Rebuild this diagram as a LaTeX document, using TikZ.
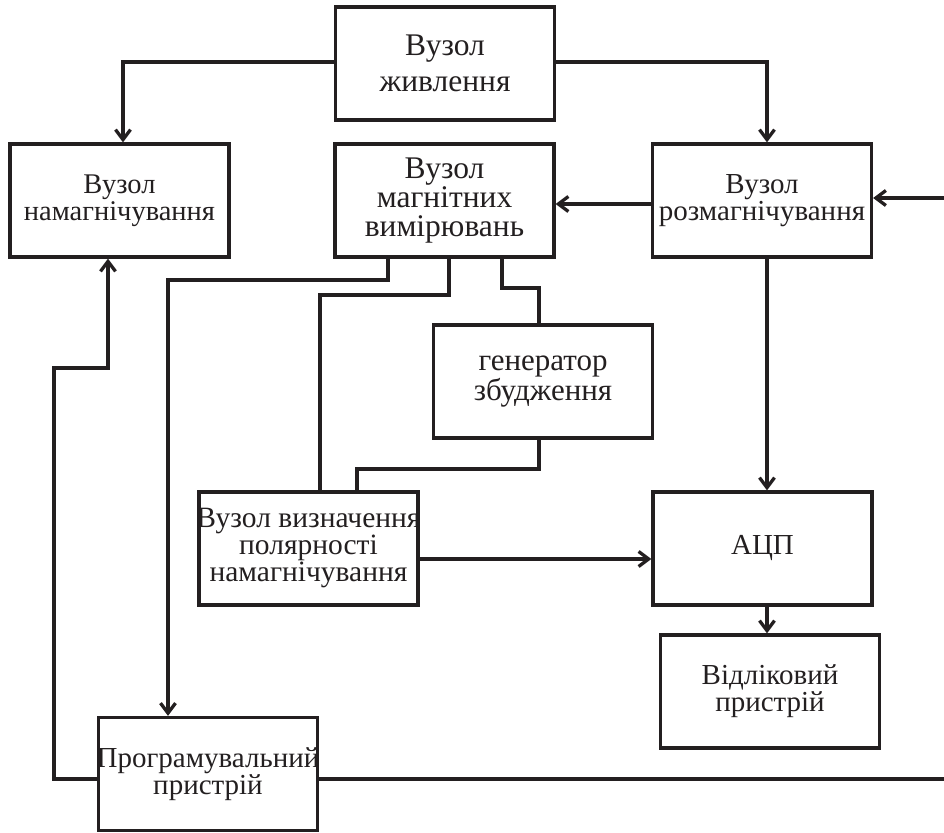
\documentclass[tikz,border=0pt]{standalone}
\usepackage{fontspec}
\setmainfont{Liberation Serif}
\usetikzlibrary{arrows.meta}
\definecolor{ink}{HTML}{231F20}
\tikzset{
  blk/.style={draw=ink, line width=3.3pt, minimum width=219pt, minimum height=113pt,
    inner xsep=-20pt, inner ysep=0pt, align=center, text=ink, font=\fontsize{29}{27}\selectfont},
  wire/.style={draw=ink, line width=3.3pt},
  arr/.style={wire, -{Straight Barb[length=10pt,width=15pt]}}
}
\begin{document}
\begin{tikzpicture}[x=1pt, y=-1pt]
\useasboundingbox (0,0) rectangle (944,832);
% blocks
\node[blk, font=\fontsize{31.5}{36}\selectfont] (pow) at (445,63.5) {Вузол\\живлення};
\node[blk, font=\fontsize{28.5}{27}\selectfont] (mag)  at (119.5,200.5) {Вузол\\намагнічування};
\node[blk, font=\fontsize{31.5}{29}\selectfont] (meas) at (444.5,200.5) {Вузол\\магнітних\\вимірювань};
\node[blk] (dem)  at (762,200.5) {Вузол\\розмагнічування};
\node[blk, font=\fontsize{31}{26}\selectfont] (gen)  at (543,381.5) {генератор\\збудження};
\node[blk, font=\fontsize{29.5}{27}\selectfont] (pol)  at (308.5,548.5) {Вузол визначення\\полярності\\намагнічування};
\node[blk] (adc)  at (762.5,548.5) {АЦП};
\node[blk] (cnt)  at (770,691.5) {Відліковий\\пристрій};
\node[blk] (prog) at (208,774) {Програмувальний\\пристрій};
% bend points
\coordinate (k1) at (388,280);  \coordinate (k1b) at (168,280);
\coordinate (k2) at (449,295);  \coordinate (k2b) at (320,295);
\coordinate (k3) at (502,288);  \coordinate (k3b) at (539,288);
\coordinate (k4) at (539,469);  \coordinate (k4b) at (357,469);
\coordinate (k5) at (54,779);   \coordinate (k5b) at (54,368);  \coordinate (k5c) at (108,368);
\coordinate (k6) at (944,779);
\coordinate (k7) at (944,198);
\coordinate (k8) at (600,204);
\coordinate (k9) at (123,62);
\coordinate (k10) at (767,62);
\coordinate (k11) at (500,559);
% connections
\draw[arr] (k9 -| pow.west) -- (k9) -- (k9 |- mag.north);
\draw[arr] (k10 -| pow.east) -- (k10) -- (k10 |- dem.north);
\draw[arr] (k7) -- (k7 -| dem.east);
\draw[arr] (k8 -| dem.west) -- (k8 -| meas.east);
\draw[arr] (k10 |- dem.south) -- (k10 |- adc.north);
\draw[arr] (k10 |- adc.south) -- (k10 |- cnt.north);
\draw[arr] (k11 -| pol.east) -- (k11 -| adc.west);
\draw[arr] (k1 |- meas.south) -- (k1) -- (k1b) -- (k1b |- prog.north);
\draw[wire] (k2 |- meas.south) -- (k2) -- (k2b) -- (k2b |- pol.north);
\draw[wire] (k3 |- meas.south) -- (k3) -- (k3b) -- (k3b |- gen.north);
\draw[wire] (k4 |- gen.south) -- (k4) -- (k4b) -- (k4b |- pol.north);
\draw[arr] (prog.west |- k5) -- (k5) -- (k5b) -- (k5c) -- (k5c |- mag.south);
\draw[wire] (prog.east |- k6) -- (k6);
\end{tikzpicture}
\end{document}
